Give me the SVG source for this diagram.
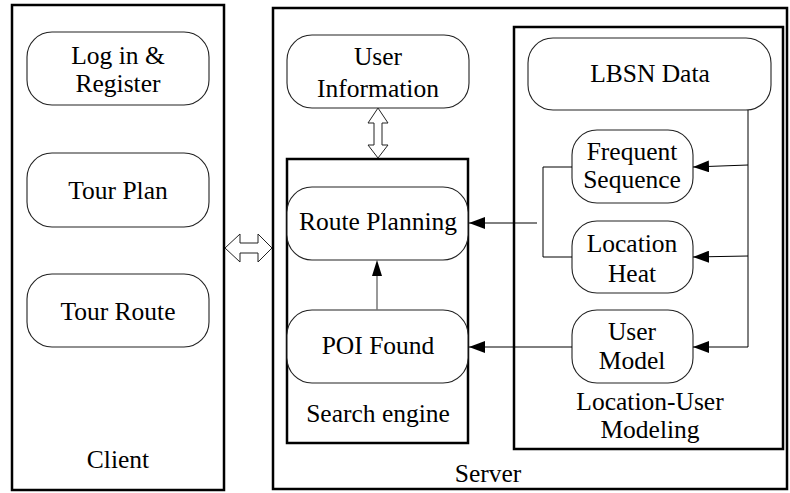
<svg xmlns="http://www.w3.org/2000/svg" width="790" height="493" viewBox="0 0 790 493">
<defs>
<style>
.frame{fill:none;stroke:#000;stroke-width:2.5}
.node{fill:#fff;stroke:#222;stroke-width:1.1}
.t{font-family:"Liberation Serif","Times New Roman",serif;font-size:25.5px;fill:#000;text-anchor:middle}
.ln{fill:none;stroke:#000;stroke-width:1}
.dbl{fill:#fff;stroke:#222;stroke-width:1}
</style>
<marker id="ah" viewBox="0 0 16 12" refX="16" refY="6" markerWidth="16" markerHeight="12" markerUnits="userSpaceOnUse" orient="auto">
<path d="M0,0 L16,6 L0,12 Z" fill="#000"/>
</marker>
</defs>
<rect width="790" height="493" fill="#fff"/>

<g id="client">
<rect class="frame" x="12" y="5" width="212" height="485"/>
<text class="t" x="118" y="468">Client</text>
</g>
<g id="server">
<rect class="frame" x="273" y="8" width="514" height="481"/>
<text class="t" x="488" y="482">Server</text>
</g>
<g id="search-engine">
<rect class="frame" x="287" y="159" width="181" height="284"/>
<text class="t" x="378" y="422">Search engine</text>
</g>
<g id="location-user-modeling">
<rect class="frame" x="514" y="27" width="269" height="422"/>
<text class="t" x="650" y="410">Location-User</text>
<text class="t" x="650" y="438">Modeling</text>
</g>

<g id="login">
<rect class="node" x="27" y="32" width="182" height="73" rx="25"/>
<text class="t" x="118" y="64">Log in &amp;</text>
<text class="t" x="118" y="92">Register</text>
</g>
<g id="tour-plan">
<rect class="node" x="27" y="153" width="182" height="74" rx="25"/>
<text class="t" x="118" y="199">Tour Plan</text>
</g>
<g id="tour-route">
<rect class="node" x="27" y="274" width="182" height="73" rx="25"/>
<text class="t" x="118" y="320">Tour Route</text>
</g>
<g id="user-information">
<rect class="node" x="287" y="35" width="182" height="73" rx="25"/>
<text class="t" x="378" y="65">User</text>
<text class="t" x="378" y="97">Information</text>
</g>
<g id="route-planning">
<rect class="node" x="287" y="187" width="181" height="73" rx="25"/>
<text class="t" x="378" y="230">Route Planning</text>
</g>
<g id="poi-found">
<rect class="node" x="287" y="310" width="181" height="73" rx="25"/>
<text class="t" x="378" y="354">POI Found</text>
</g>
<g id="lbsn-data">
<rect class="node" x="528" y="38" width="243" height="72" rx="25"/>
<text class="t" x="650" y="82">LBSN Data</text>
</g>
<g id="frequent-sequence">
<rect class="node" x="572" y="130" width="121" height="73" rx="25"/>
<text class="t" x="632" y="160">Frequent</text>
<text class="t" x="632" y="188">Sequence</text>
</g>
<g id="location-heat">
<rect class="node" x="572" y="221" width="121" height="72" rx="25"/>
<text class="t" x="632" y="252">Location</text>
<text class="t" x="632" y="282">Heat</text>
</g>
<g id="user-model">
<rect class="node" x="572" y="310" width="121" height="73" rx="25"/>
<text class="t" x="632" y="340">User</text>
<text class="t" x="632" y="369">Model</text>
</g>

<g id="connectors">
<path class="dbl" d="M225,248 L240,234 L240,243 L258,243 L258,234 L272,248 L258,262 L258,253 L240,253 L240,262 Z"/>
<path class="dbl" d="M378,108 L388,123 L382,123 L382,145 L388,145 L378,158 L368,145 L374,145 L374,123 L368,123 Z"/>
<path class="ln" d="M748,110 L748,347"/>
<path class="ln" d="M748,165 L693,167" marker-end="url(#ah)"/>
<path class="ln" d="M748,256 L693,257" marker-end="url(#ah)"/>
<path class="ln" d="M748,347 L693,347" marker-end="url(#ah)"/>
<path class="ln" d="M572,167 L543,167 L543,257 L572,257"/>
<path class="ln" d="M537,223 L469,223" marker-end="url(#ah)"/>
<path class="ln" d="M572,347 L469,347" marker-end="url(#ah)"/>
<path fill="none" stroke="#777" stroke-width="1.5" d="M377,310 L377,275"/>
<path d="M377,260 L372,276 L382,276 Z" fill="#000"/>
</g>
</svg>
